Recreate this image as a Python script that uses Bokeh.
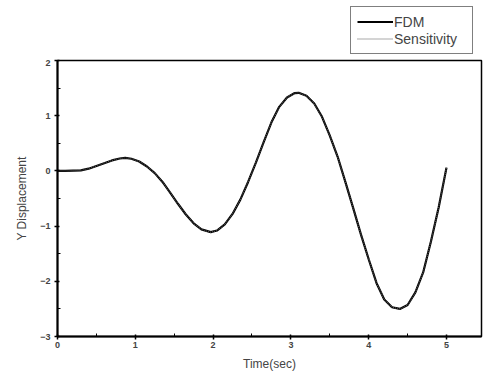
from bokeh.plotting import figure
from bokeh.layouts import column
from bokeh.models import Range1d, Legend, LegendItem, FixedTicker, ColumnDataSource
from bokeh.embed import file_html
from bokeh.resources import INLINE

# data
time_s = [0.0, 0.1, 0.2, 0.3, 0.4, 0.5, 0.6, 0.7, 0.8, 0.87, 0.95, 1.05, 1.15, 1.25,
          1.35, 1.45, 1.55, 1.65, 1.75, 1.85, 1.97, 2.05, 2.15, 2.25, 2.35, 2.45, 2.55,
          2.65, 2.75, 2.85, 2.95, 3.05, 3.1, 3.2, 3.3, 3.4, 3.5, 3.6, 3.7, 3.8, 3.9,
          4.0, 4.1, 4.2, 4.3, 4.4, 4.5, 4.6, 4.7, 4.8, 4.9, 5.0]
fdm = [0.0, 0.0, 0.005, 0.01, 0.04, 0.09, 0.14, 0.19, 0.225, 0.235, 0.22, 0.17, 0.08, -0.04,
       -0.2, -0.4, -0.6, -0.79, -0.95, -1.06, -1.11, -1.08, -0.97, -0.78, -0.52, -0.2, 0.15,
       0.52, 0.88, 1.16, 1.33, 1.41, 1.415, 1.36, 1.22, 0.98, 0.64, 0.26, -0.2, -0.67, -1.15,
       -1.6, -2.03, -2.33, -2.47, -2.5, -2.43, -2.2, -1.84, -1.28, -0.66, 0.06]
sensitivity = [0.0, 0.0, 0.005, 0.01, 0.04, 0.09, 0.14, 0.19, 0.225, 0.235, 0.22, 0.17, 0.08, -0.04,
               -0.2, -0.4, -0.6, -0.79, -0.95, -1.06, -1.11, -1.08, -0.97, -0.78, -0.52, -0.2, 0.15,
               0.52, 0.88, 1.16, 1.33, 1.41, 1.415, 1.36, 1.22, 0.98, 0.64, 0.26, -0.2, -0.67, -1.15,
               -1.6, -2.03, -2.33, -2.47, -2.5, -2.43, -2.2, -1.84, -1.28, -0.66, 0.06]
x_ticks = [0, 1, 2, 3, 4, 5]
y_ticks = [-3, -2, -1, 0, 1, 2]
series_names = ["FDM", "Sensitivity"]

FONT = "Liberation Sans"
FDM_STYLE = dict(line_color="black", line_width=2.2)
SENS_STYLE = dict(line_color="#555555", line_width=1.2, line_dash="1 1")

src = ColumnDataSource(dict(t=time_s, f=fdm, s=sensitivity))

# main plot
p = figure(width=484, height=324, output_backend="svg", toolbar_location=None,
           x_range=Range1d(0, 5.45), y_range=Range1d(-3, 2),
           min_border_left=57, min_border_right=3, min_border_top=1, min_border_bottom=47)
p.xgrid.visible = False
p.ygrid.visible = False
p.background_fill_color = "white"
p.outline_line_color = "black"
p.outline_line_width = 1.5

p.line("t", "f", source=src, **FDM_STYLE)
p.line("t", "s", source=src, **SENS_STYLE)

for ax in (p.xaxis[0], p.yaxis[0]):
    ax.axis_line_width = 2
    ax.axis_line_color = "black"
    ax.major_tick_line_width = 1.5
    ax.major_tick_out = 3
    ax.major_tick_in = 2
    ax.minor_tick_out = 0
    ax.minor_tick_in = 3
    ax.major_label_text_font = FONT
    ax.major_label_text_font_size = "9px"
    ax.major_label_text_font_style = "bold"
    ax.axis_label_text_font = FONT
    ax.axis_label_text_font_size = "12px"
    ax.axis_label_text_font_style = "normal"

p.xaxis.ticker = FixedTicker(ticks=x_ticks, minor_ticks=[0.5, 1.5, 2.5, 3.5, 4.5])
p.yaxis.ticker = FixedTicker(ticks=y_ticks, minor_ticks=[-2.5, -1.5, -0.5, 0.5, 1.5])
p.xaxis.axis_label = "Time(sec)"
p.yaxis.axis_label = "Y Displacement"
p.xaxis.major_label_standoff = 2
p.yaxis.major_label_standoff = 4
p.xaxis.axis_label_standoff = 6
p.yaxis.axis_label_standoff = 8

# legend strip above the plot (its lines are drawn outside its visible range)
lf = figure(width=484, height=59, output_backend="svg", toolbar_location=None,
            x_range=Range1d(100, 101), y_range=Range1d(100, 101),
            min_border_left=0, min_border_right=0, min_border_top=0, min_border_bottom=0)
lf.axis.visible = False
lf.grid.visible = False
lf.outline_line_color = None
l1 = lf.line("t", "f", source=src, **FDM_STYLE)
l2 = lf.line("t", "s", source=src, **SENS_STYLE)
legend = Legend(items=[LegendItem(label=series_names[0], renderers=[l1]),
                       LegendItem(label=series_names[1], renderers=[l2])],
                location=(293, 5))
legend.border_line_color = "black"
legend.border_line_width = 1.2
legend.background_fill_alpha = 1
legend.label_text_font = FONT
legend.label_text_font_size = "14px"
legend.glyph_width = 36
legend.glyph_height = 17
legend.label_standoff = 1
legend.spacing = 0
legend.padding = 6
legend.margin = 0
legend.label_height = 17
legend.label_width = 72
lf.add_layout(legend, "center")

open("out.html", "w").write(file_html(column(lf, p, spacing=0), INLINE))
